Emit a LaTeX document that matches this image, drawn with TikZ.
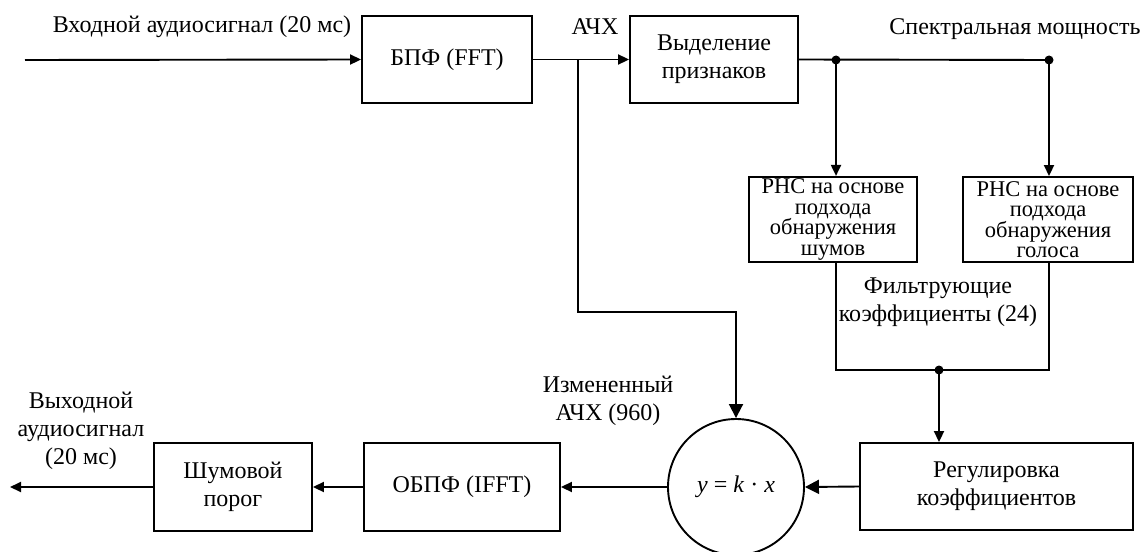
\documentclass[tikz,border=0pt]{standalone}
\usepackage{fontspec}
\setmainfont{Liberation Serif}
\usetikzlibrary{arrows.meta,calc}
\begin{document}
\begin{tikzpicture}[x=1pt,y=-1pt,
  line width=1.9pt,
  font=\fontsize{24}{28}\selectfont,
  blk/.style={draw, rectangle, inner sep=2pt, align=center},
  rncbox/.style={blk, minimum width=168pt, minimum height=85pt, font=\fontsize{22.5}{20.5}\selectfont},
  lbl/.style={align=center, inner sep=0pt},
  arr/.style={-{Triangle[length=11pt,width=10pt]}},
  bigarr/.style={-{Triangle[length=14pt,width=14pt]}},
  dot/.style={circle, fill, inner sep=0pt, minimum size=9pt}
]
\useasboundingbox (0,0) rectangle (1142,551);
% blocks
\node[blk, minimum width=170pt, minimum height=87pt] (fft) at (447,59.5) {БПФ (FFT)};
\node[blk, minimum width=168pt, minimum height=87pt] (feat) at (714,59.5) {Выделение\\признаков};
\node[rncbox] (rnc1) at (833,219.5) {РНС на основе\\подхода\\обнаружения\\шумов};
\node[rncbox, minimum width=170pt] (rnc2) at (1048,219.5) {РНС на основе\\подхода\\обнаружения\\голоса};
\node[blk, minimum width=273pt, minimum height=87pt] (reg) at (996.5,486.5) {Регулировка\\коэффициентов};
\node[draw, circle, minimum size=136pt, inner sep=0pt] (circ) at (736,487) {\textit{y} = \textit{k} · \textit{x}};
\node[blk, minimum width=196pt, minimum height=88pt] (ifft) at (462,487) {ОБПФ (IFFT)};
\node[blk, minimum width=158pt, minimum height=88pt] (thr) at (233,487) {Шумовой\\порог};
% labels
\node[lbl] (linput) at (202,27) {Входной аудиосигнал (20 мс)};
\node[lbl] (lach) at (595,27) {АЧХ};
\node[lbl] (lspec) at (1015,29) {Спектральная мощность};
\node[lbl] (lfilt) at (938,302) {Фильтрующие\\коэффициенты (24)};
\node[lbl] (lmod) at (608,401) {Измененный\\АЧХ (960)};
\node[lbl] (lout) at (81,431) {Выходной\\аудиосигнал\\(20 мс)};
% coordinates
\coordinate (in) at (25,60);
\coordinate (br) at (578,60);
\coordinate (s1) at (836,60);
\coordinate (s2) at (1049,60);
\coordinate (j1) at (836,370);
\coordinate (j2) at (1049,370);
\coordinate (jm) at (939,370);
\coordinate (out) at (10,487);
% connectors
\draw[arr] (in) -- (fft.west);
\draw[arr] (fft.east) -- (feat.west);
\draw[bigarr] (br) -- (578,312) -- (736,312) -- (circ.north);
\draw (feat.east) -- (s2);
\draw[arr] (s1) -- (s1|-rnc1.north);
\draw[arr] (s2) -- (s2|-rnc2.north);
\draw (j1|-rnc1.south) -- (j1) -- (j2) -- (j2|-rnc2.south);
\draw[arr] (jm) -- (jm|-reg.north);
\draw[bigarr] (reg.west) -- (circ.east);
\draw[arr] (circ.west) -- (ifft.east);
\draw[arr] (ifft.west) -- (thr.east);
\draw[arr] (thr.west) -- (out);
\node[dot] (d1) at (s1) {};
\node[dot] (d2) at (s2) {};
\node[dot] (d3) at (jm) {};
\end{tikzpicture}
\end{document}
